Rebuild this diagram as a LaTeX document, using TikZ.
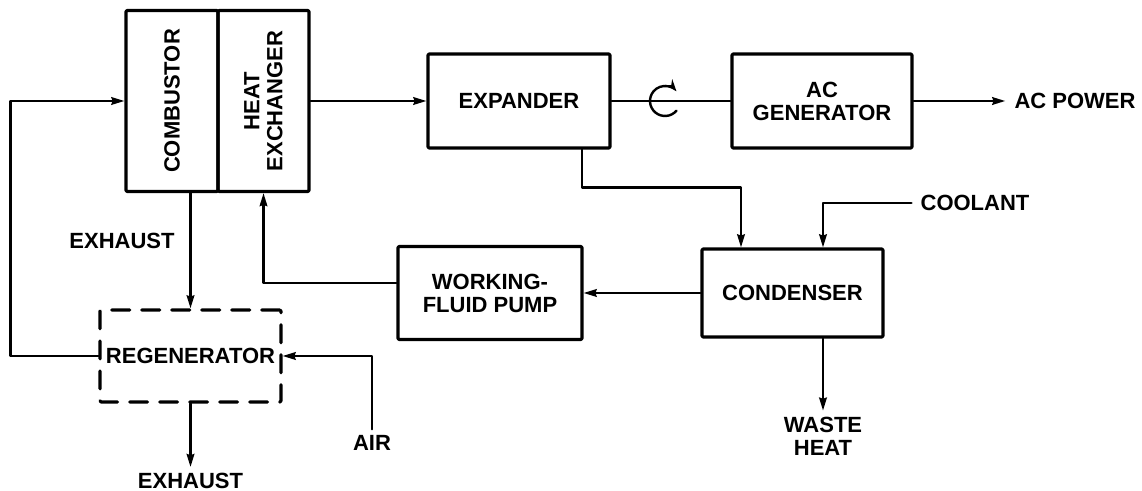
\documentclass[tikz,border=0pt]{standalone}
\usepackage{fontspec}
\setmainfont{Liberation Sans}
\usetikzlibrary{arrows.meta}
\begin{document}
\begin{tikzpicture}[line cap=round,line join=round,>={Stealth[length=6.5pt,width=3.8pt,inset=0.6pt]},
	x=0.5pt,y=-0.5pt,line width=1.2pt,
	font=\fontsize{11}{11.5}\selectfont\bfseries,
	block/.style={draw,line width=1.6pt,rounded corners=0.6pt,align=center,inner sep=0pt},
	dashblock/.style={block,dash pattern=on 9pt off 6pt},
	tag/.style={align=center,inner sep=2.5pt}]
	\useasboundingbox (0,0) rectangle (1142,491);
	% Blocs principaux
	\node[block,minimum width=46pt,minimum height=90.5pt] (comb) at (172,101) {};
	\node[block,minimum width=45.5pt,minimum height=90.5pt] (hx) at (263.5,101) {};
	\node[rotate=90] at (comb) {COMBUSTOR};
	\node[rotate=90,align=center] at (hx) {HEAT\\EXCHANGER};
	\node[block,minimum width=91pt,minimum height=47pt] (exp) at (519,101) {EXPANDER};
	\node[block,minimum width=90pt,minimum height=47pt] (gen) at (822,101) {AC\\GENERATOR};
	\node[block,minimum width=90.5pt,minimum height=44pt] (cond) at (792.5,293) {CONDENSER};
	\node[block,minimum width=92pt,minimum height=46.5pt] (pump) at (490,293) {WORKING-\\FLUID PUMP};
	\node[dashblock,minimum width=90.5pt,minimum height=46pt] (regen) at (190.5,356) {REGENERATOR};
	% Etiquettes
	\node[tag] (exh1) at (122,241) {EXHAUST};
	\node[tag] (exh2) at (190.5,481) {EXHAUST};
	\node[tag] (air) at (372,443) {AIR};
	\node[tag,inner sep=4pt] (acp) at (1075,101) {AC POWER};
	\node[tag,inner sep=4pt] (cool) at (975,203) {COOLANT};
	\node[tag] (waste) at (823,436) {WASTE\\HEAT};
	% Liaisons
	\draw[->] (hx) -- (exp);
	\draw (exp) -- (gen);
	\draw[->] (gen) -- (acp);
	\draw[->] ([xshift=31.5pt]exp.south) -- ++(0,38) -| ([xshift=-25.75pt]cond.north);
	\draw[->] (cool.west) -| (cond.north -| waste.north);
	\draw[->] (cond) -- (pump);
	\draw[->] ([yshift=5pt]pump.west) -| (hx.south);
	\draw[->] (cond.south -| waste.north) -- (waste.north);
	\draw[->] (comb.south -| regen.north) -- (regen.north);
	\draw[->] (regen.south) -- (exh2.north);
	\draw[->] (air.north) |- (regen.east);
	\draw[->] (regen.west) -- ++(-88,0) |- (comb.west);
	% Sens de rotation de l'arbre
	\coordinate (rot) at (665,101);
	\draw[->,>={Stealth[length=6pt,width=4.5pt]}] (rot) ++(-40:7.5pt) arc[start angle=-40,end angle=-320,radius=7.5pt];
\end{tikzpicture}
\end{document}
